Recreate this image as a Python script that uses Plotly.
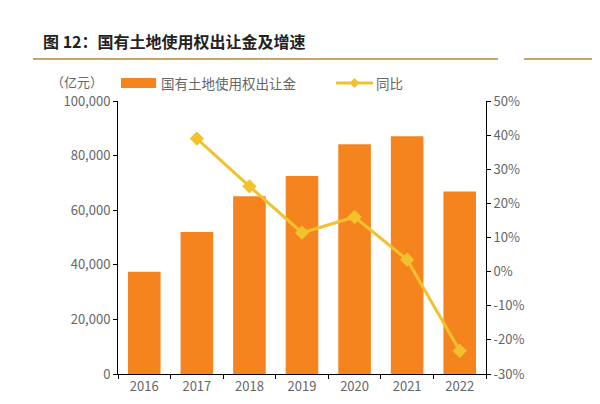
import plotly.graph_objects as go

years = ["2016", "2017", "2018", "2019", "2020", "2021", "2022"]
revenue = [37457, 52059, 65096, 72517, 84142, 87051, 66854]
growth = [None, 39.0, 25.0, 11.4, 16.0, 3.5, -23.2]
left_ticks = [0, 20000, 40000, 60000, 80000, 100000]
right_ticks = [-30, -20, -10, 0, 10, 20, 30, 40, 50]
right_labels = ["-30%", "-20%", "-10%", "0%", "10%", "20%", "30%", "40%", "50%"]

BAR = "#F5841F"
LINE = "#F2C12E"
FONT = "Noto Sans CJK SC"
GRAY = "#666666"

fig = go.Figure()
fig.add_trace(go.Bar(x=years, y=revenue, name="国有土地使用权出让金",
                     marker=dict(color=BAR, line=dict(width=0)), width=0.62,
                     showlegend=False))
fig.add_trace(go.Scatter(x=years, y=growth, name="同比", yaxis="y2", mode="lines+markers",
                         line=dict(color=LINE, width=3),
                         marker=dict(symbol="diamond", size=11, color=LINE),
                         showlegend=False))

L, R, T, B = 110, 122, 93, 38
W, H = 600 - L - R, 404 - T - B

def px(x):
    return (x - L) / W

def py(y):
    return (404 - B - y) / H

shapes = [
    dict(type="line", xref="paper", yref="paper", x0=px(25), x1=px(490), y0=py(51), y1=py(51),
         line=dict(color="#C9A46A", width=2)),
    dict(type="line", xref="paper", yref="paper", x0=px(516), x1=px(600), y0=py(51), y1=py(51),
         line=dict(color="#C9A46A", width=2)),
    dict(type="line", xref="paper", yref="paper", x0=px(0), x1=px(560), y0=py(399), y1=py(399),
         line=dict(color="#E8B46A", width=2)),
    # legend symbols
    dict(type="rect", xref="paper", yref="paper", x0=px(113), x1=px(148), y0=py(70), y1=py(80),
         fillcolor=BAR, line=dict(width=0)),
    dict(type="line", xref="paper", yref="paper", x0=px(328), x1=px(365), y0=py(75), y1=py(75),
         line=dict(color=LINE, width=3)),
    dict(type="path", xref="paper", yref="paper",
         path=f"M {px(346.5)},{py(70)} L {px(351.5)},{py(75)} L {px(346.5)},{py(80)} L {px(341.5)},{py(75)} Z",
         fillcolor=LINE, line=dict(width=0)),
]

annotations = [
    dict(text="<b>图 12：国有土地使用权出让金及增速</b>", xref="paper", yref="paper",
         x=px(33), y=py(33), xanchor="left", yanchor="middle", showarrow=False,
         font=dict(family=FONT, size=16, color="#222222")),
    dict(text="（亿元）", xref="paper", yref="paper", x=px(97), y=py(73),
         xanchor="right", yanchor="middle", showarrow=False,
         font=dict(family=FONT, size=13, color=GRAY)),
    dict(text="国有土地使用权出让金", xref="paper", yref="paper", x=px(151), y=py(75),
         xanchor="left", yanchor="middle", showarrow=False,
         font=dict(family=FONT, size=13.5, color=GRAY)),
    dict(text="同比", xref="paper", yref="paper", x=px(366), y=py(75),
         xanchor="left", yanchor="middle", showarrow=False,
         font=dict(family=FONT, size=13.5, color=GRAY)),
]

axis_font = dict(family=FONT, size=13, color=GRAY)

fig.update_layout(
    width=600, height=404,
    margin=dict(l=L, r=R, t=T, b=B),
    paper_bgcolor="white", plot_bgcolor="white",
    showlegend=False,
    shapes=shapes, annotations=annotations,
    xaxis=dict(type="category", showline=True, linecolor="#000000", linewidth=1,
               ticks="outside", ticklen=4, tickcolor="#000000", tickfont=axis_font,
               showgrid=False, tickson="boundaries"),
    yaxis=dict(range=[0, 100000], tickvals=left_ticks, tickformat=",d",
               showline=True, linecolor="#000000", linewidth=1,
               ticks="outside", ticklen=4, tickcolor="#000000", tickfont=axis_font,
               showgrid=False, zeroline=False),
    yaxis2=dict(range=[-30, 50], tickvals=right_ticks, ticktext=right_labels, overlaying="y",
                side="right", showline=True, linecolor="#000000", linewidth=1,
                ticks="outside", ticklen=4, tickcolor="#000000", tickfont=axis_font,
                showgrid=False, zeroline=False),
)

fig.write_html("out.html")
